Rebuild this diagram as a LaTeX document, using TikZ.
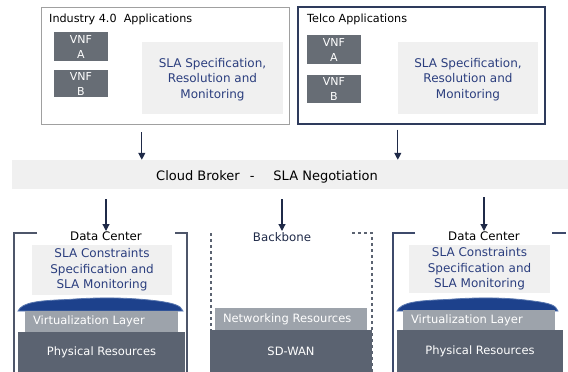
\documentclass[tikz,border=0pt]{standalone}
\usepackage{fontspec}
\setmainfont{DejaVu Sans}
\usetikzlibrary{arrows.meta}
\definecolor{navy}{HTML}{1F2A48}
\definecolor{frameblue}{HTML}{2E3B5C}
\definecolor{framegray}{HTML}{A0A0A0}
\definecolor{boxgray}{HTML}{F0F0F0}
\definecolor{vnfgray}{HTML}{676D75}
\definecolor{slablue}{HTML}{2B3E7E}
\definecolor{basegray}{HTML}{5B6371}
\definecolor{layergray}{HTML}{9DA3AB}
\definecolor{lidblue}{HTML}{1D418C}
\definecolor{lidedge}{HTML}{5A78B0}
\definecolor{dcleft}{HTML}{4E566A}
\definecolor{dcright}{HTML}{3D4A6B}
\begin{document}
\begin{tikzpicture}[x=1pt, y=-1pt,
    appbox/.style={draw, line width=1pt, inner sep=0pt},
    vnf/.style={fill=vnfgray, text=white, minimum width=54pt, align=center,
      font=\fontsize{11}{15}\selectfont, inner sep=0pt},
    slabox/.style={fill=boxgray, text=slablue, align=center,
      font=\fontsize{12}{15.5}\selectfont, inner sep=0pt},
    layer/.style={fill=layergray, text=white, align=left, inner xsep=8pt,
      inner ysep=0pt, font=\fontsize{11.5}{13}\selectfont},
    basebox/.style={fill=basegray, text=white, inner sep=0pt,
      font=\fontsize{11.5}{13}\selectfont},
    lbl/.style={font=\fontsize{11.8}{13}\selectfont, inner sep=1pt},
    arr/.style={-{Triangle[width=7pt,length=7pt]}, line width=1.2pt, navy},
    bracket/.style={line width=1.5pt},
    lid/.style={fill=lidblue, draw=lidedge, line width=0.8pt},
  ]
  \useasboundingbox (0,0) rectangle (568,372);

  % Applications
  \node[appbox, draw=framegray, minimum width=248pt, minimum height=117.5pt] (indbox) at (165,65.75) {};
  \node[lbl, font=\fontsize{11.2}{13}\selectfont, anchor=base west] (indttl) at (48,23) {Industry 4.0 \ Applications};
  \node[vnf, minimum height=29pt] (indvnfa) at (81,46.5) {VNF\\A};
  \node[vnf, minimum height=27pt] (indvnfb) at (81,83.5) {VNF\\B};
  \node[slabox, minimum width=141pt, minimum height=72pt, text depth=-2pt] (indsla) at (212.5,78)
    {SLA Specification,\\Resolution and\\Monitoring};

  \node[appbox, draw=frameblue, line width=1.2pt, minimum width=247pt, minimum height=117pt] (telbox) at (421.5,65.5) {};
  \node[lbl, font=\fontsize{11.2}{13}\selectfont, anchor=base west] (telttl) at (306,23) {Telco Applications};
  \node[vnf, minimum height=29pt] (telvnfa) at (334,49.5) {VNF\\A};
  \node[vnf, minimum height=28pt] (telvnfb) at (334,89) {VNF\\B};
  \node[slabox, minimum width=140pt, minimum height=72pt, text depth=-2pt] (telsla) at (468,78)
    {SLA Specification,\\Resolution and\\Monitoring};

  % Cloud broker
  \node[fill=boxgray, minimum width=556pt, minimum height=29pt, inner sep=0pt] (broker) at (290,174.5) {};
  \node[lbl, font=\fontsize{13}{15}\selectfont] (brokerlbl) at (267,176.5)
    {Cloud Broker\hspace{10pt}-\hspace{19pt}SLA Negotiation};

  \draw[arr, shorten <=7pt] (indbox.south -| indsla.west) -- (indsla.west |- broker.north);
  \draw[arr, shorten <=5pt] (telbox.south -| telsla.west) -- (telsla.west |- broker.north);

  % Data center left
  \draw[bracket, dcleft] (37,233) -- (14,233) -- (14,372);
  \draw[bracket, dcleft] (175,233) -- (187,233) -- (187,372);
  \node[lbl, anchor=north] (dcllbl) at (106,231) {Data Center};
  \node[slabox, minimum width=140pt, minimum height=50pt] (dclsla) at (102,270)
    {SLA Constraints\\Specification and\\SLA Monitoring};
  \draw[lid] (18,311) .. controls (22,302) and (40,300.5) .. (68,299.5)
    .. controls (100,297) and (130,297.5) .. (158,301)
    .. controls (172,303) and (181,305) .. (183,311) -- cycle;
  \node[layer, text width=137pt, minimum height=21pt] (dclvirt) at (101.5,321.5) {Virtualization Layer};
  \node[basebox, minimum width=167pt, minimum height=40pt] (dclphys) at (101.5,352) {Physical Resources};

  % Backbone
  \draw[bracket, basegray, line width=1.2pt, dashed] (211,233) -- (211,372);
  \draw[bracket, basegray, line width=1.2pt, dashed] (352,233) -- (372,233) -- (372,372);
  \node[lbl, anchor=north, text=navy] (bblbl) at (282,231) {Backbone};
  \node[layer, text width=136pt, minimum height=22pt] (bbnet) at (291,319) {Networking Resources};
  \node[basebox, minimum width=162pt, minimum height=42pt] (bbwan) at (291,351) {SD-WAN};

  % Data center right
  \draw[bracket, dcright] (415,233) -- (393,233) -- (393,372);
  \draw[bracket, dcright] (552,233) -- (566,233);
  \node[lbl, anchor=north] (dcrlbl) at (484,231) {Data Center};
  \node[slabox, minimum width=141pt, minimum height=48pt] (dcrsla) at (479.5,269)
    {SLA Constraints\\Specification and\\SLA Monitoring};
  \draw[lid] (397,311) .. controls (401,302) and (419,300.5) .. (447,299.5)
    .. controls (479,297) and (509,297.5) .. (533,301)
    .. controls (549,303) and (556,305) .. (558,311) -- cycle;
  \node[layer, text width=136pt, minimum height=20pt] (dcrvirt) at (479,320) {Virtualization Layer};
  \node[basebox, minimum width=166pt, minimum height=42pt] (dcrphys) at (480,351) {Physical Resources};

  \draw[arr, shorten <=10pt] (broker.south -| dcllbl.north) -- (dcllbl.north);
  \draw[arr, shorten <=10pt] (broker.south -| bblbl.north) -- (bblbl.north);
  \draw[arr, shorten <=8pt] (broker.south -| dcrlbl.north) -- (dcrlbl.north);
\end{tikzpicture}
\end{document}
